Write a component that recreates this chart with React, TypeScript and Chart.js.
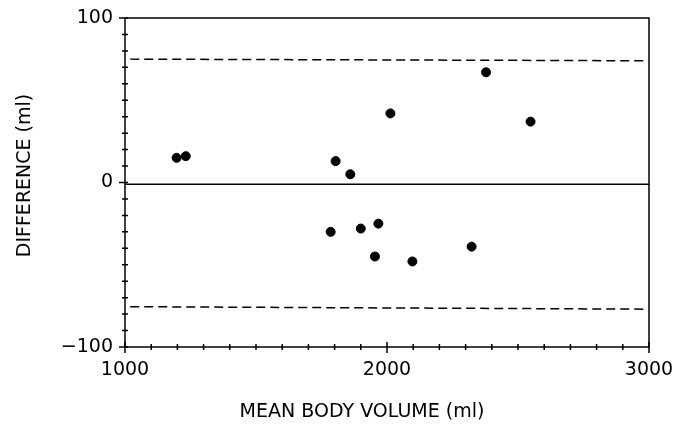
import React, { useEffect, useRef } from "react";
import { Chart, registerables } from "chart.js";

Chart.register(...registerables);

// Data
const meanVolume = [1197, 1232, 1804, 1860, 1785, 1900, 1967, 1954, 2097, 2323, 2548, 2378, 2013];
const difference = [15, 16, 13, 5, -30, -28, -25, -45, -48, -39, 37, 67, 42];

const meanLineX = [1000, 3000];
const meanLineY = [-1, -1];
const limitLineX = [1020, 2990];
const upperLimitY = [75, 74];
const lowerLimitY = [-75.5, -77];

const xMajorLabels = [1000, 2000, 3000];
const yMajorLabels = [-100, 0, 100];
const xTitle = "MEAN BODY VOLUME (ml)";
const yTitle = "DIFFERENCE (ml)";

const FONT = '"DejaVu Sans", sans-serif';

const axisDecor = {
  id: "axisDecor",
  afterDraw(chart: any) {
    const { ctx, chartArea } = chart;
    const { left, right, top, bottom } = chartArea;
    const x = chart.scales.x;
    const y = chart.scales.y;
    ctx.save();
    ctx.strokeStyle = "#000";
    ctx.lineWidth = 1.5;
    ctx.strokeRect(left, top, right - left, bottom - top);
    ctx.beginPath();
    y.ticks.forEach((t: any) => {
      const py = y.getPixelForValue(t.value);
      const major = yMajorLabels.includes(t.value);
      ctx.moveTo(left - (major ? 6 : 3), py);
      ctx.lineTo(left + 3, py);
    });
    x.ticks.forEach((t: any) => {
      const px = x.getPixelForValue(t.value);
      const major = xMajorLabels.includes(t.value);
      ctx.moveTo(px, bottom - (major ? 5 : 3));
      ctx.lineTo(px, bottom + (major ? 6 : 3));
    });
    ctx.stroke();

    ctx.fillStyle = "#000";
    ctx.font = `19px ${FONT}`;
    ctx.textAlign = "center";
    ctx.textBaseline = "middle";
    ctx.fillText(xTitle, (left + right) / 2 - 25, 412);
    ctx.translate(25, (top + bottom) / 2 - 7);
    ctx.rotate(-Math.PI / 2);
    ctx.fillText(yTitle, 0, 0);
    ctx.restore();
  },
};

export default function App() {
  const ref = useRef<HTMLCanvasElement | null>(null);

  useEffect(() => {
    if (!ref.current) return;
    const pts = meanVolume.map((v, i) => ({ x: v, y: difference[i] }));
    const line = (xs: number[], ys: number[]) => xs.map((v, i) => ({ x: v, y: ys[i] }));
    const chart = new Chart(ref.current, {
      type: "scatter",
      data: {
        datasets: [
          {
            data: pts,
            backgroundColor: "#000",
            borderColor: "#000",
            pointRadius: 4.5,
            showLine: false,
          },
          {
            data: line(meanLineX, meanLineY),
            showLine: true,
            borderColor: "#000",
            borderWidth: 1.5,
            pointRadius: 0,
          },
          {
            data: line(limitLineX, upperLimitY),
            showLine: true,
            borderColor: "#000",
            borderWidth: 1.5,
            borderDash: [9, 5],
            pointRadius: 0,
          },
          {
            data: line(limitLineX, lowerLimitY),
            showLine: true,
            borderColor: "#000",
            borderWidth: 1.5,
            borderDash: [9, 5],
            pointRadius: 0,
          },
        ],
      } as any,
      options: {
        responsive: false,
        animation: false,
        layout: { padding: { top: 18, right: 40, left: 0, bottom: 0 } },
        plugins: { legend: { display: false }, tooltip: { enabled: false } },
        scales: {
          x: {
            type: "linear",
            min: 1000,
            max: 3000,
            border: { display: false },
            grid: { display: false, drawTicks: false, tickLength: 0 },
            ticks: {
              stepSize: 100,
              autoSkip: false,
              maxRotation: 0,
              padding: 12,
              color: "#000",
              font: { family: FONT, size: 19 },
              callback: (v: any) => (xMajorLabels.includes(Number(v)) ? String(v) : ""),
            },
            afterFit: (s: any) => {
              s.height = 80;
              s.paddingLeft = 0;
              s.paddingRight = 0;
            },
          },
          y: {
            type: "linear",
            min: -100,
            max: 100,
            border: { display: false },
            grid: { display: false, drawTicks: false, tickLength: 0 },
            ticks: {
              stepSize: 10,
              autoSkip: false,
              padding: 12,
              color: "#000",
              font: { family: FONT, size: 19 },
              callback: (v: any) => {
                const n = Number(v);
                if (!yMajorLabels.includes(n)) return "";
                return n < 0 ? "\u2212" + Math.abs(n) : String(n);
              },
            },
            afterFit: (s: any) => {
              s.width = 125;
              s.paddingTop = 0;
              s.paddingBottom = 0;
            },
          },
        },
      },
      plugins: [axisDecor],
    });
    return () => chart.destroy();
  }, []);

  return (
    <div style={{ position: "absolute", left: 0, top: 0, width: 689, height: 427, background: "#fff" }}>
      <canvas ref={ref} width={689} height={427} style={{ display: "block" }} />
    </div>
  );
}
